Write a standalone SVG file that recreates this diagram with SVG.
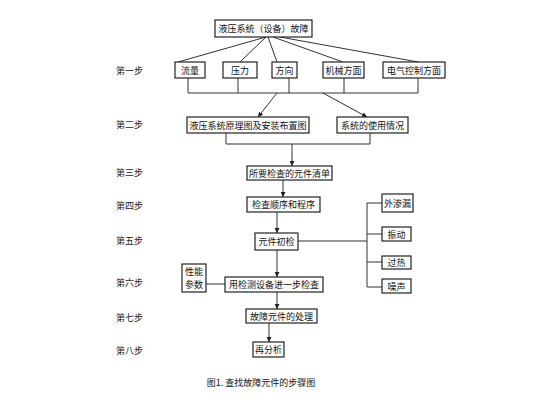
<svg xmlns="http://www.w3.org/2000/svg" width="553" height="406" viewBox="0 0 553 406">
<defs>
<style>
.box{fill:#fff;stroke:#222;stroke-width:1.2}
.t{font-family:"Noto Sans CJK SC","Liberation Sans",sans-serif;font-size:9px;fill:#111;text-anchor:middle;dominant-baseline:central}
.s{font-family:"Noto Sans CJK SC","Liberation Sans",sans-serif;font-size:9px;fill:#222;dominant-baseline:central}
.ln{fill:none;stroke:#333;stroke-width:1}
</style>
<marker id="ah" viewBox="0 0 8 8" refX="8" refY="4" markerWidth="5" markerHeight="5" orient="auto">
<path d="M0,0 L8,4 L0,8 z" fill="#222"/>
</marker>
</defs>
<rect width="553" height="406" fill="#fff"/>

<g id="steps">
<text class="s" x="116" y="70">第一步</text>
<text class="s" x="116" y="124">第二步</text>
<text class="s" x="116" y="172">第三步</text>
<text class="s" x="116" y="205">第四步</text>
<text class="s" x="116" y="240">第五步</text>
<text class="s" x="116" y="282">第六步</text>
<text class="s" x="116" y="317">第七步</text>
<text class="s" x="116" y="350">第八步</text>
</g>

<g id="connectors">
<path class="ln" d="M266,37 L178,62 M266,37 L240,62 M268,37 L277,62 M273,37 L343,62 M280,37 L418,62"/>
<path class="ln" d="M188,78 V93 M238,78 V93 M289,78 V93 M344,78 V93 M418,78 V93 M188,93 H418"/>
<path class="ln" d="M277,93 L258,117" marker-end="url(#ah)"/>
<path class="ln" d="M323,93 L367,117" marker-end="url(#ah)"/>
<path class="ln" d="M226,133 V144 H370 V133"/>
<path class="ln" d="M292,144 V166" marker-end="url(#ah)"/>
<path class="ln" d="M283,180 V197" marker-end="url(#ah)"/>
<path class="ln" d="M277,212 V233" marker-end="url(#ah)"/>
<path class="ln" d="M298,241 H367 M367,203 V287 M367,203 H382 M367,234 H382 M367,262 H382 M367,287 H382"/>
<path class="ln" d="M277,250 V277" marker-end="url(#ah)"/>
<path class="ln" d="M206,284 H225"/>
<path class="ln" d="M277,292 V309" marker-end="url(#ah)"/>
<path class="ln" d="M269,323 V342" marker-end="url(#ah)"/>
</g>

<g id="n-top"><rect class="box" x="215" y="20" width="97" height="17"/><text class="t" x="263.5" y="28.5">液压系统（设备）故障</text></g>
<g id="n-liuliang"><rect class="box" x="175" y="62" width="30" height="16"/><text class="t" x="190" y="70">流量</text></g>
<g id="n-yali"><rect class="box" x="223" y="62" width="34" height="16"/><text class="t" x="240" y="70">压力</text></g>
<g id="n-fangxiang"><rect class="box" x="272" y="62" width="25" height="16"/><text class="t" x="284.5" y="70">方向</text></g>
<g id="n-jixie"><rect class="box" x="323" y="62" width="41" height="16"/><text class="t" x="343.5" y="70">机械方面</text></g>
<g id="n-dianqi"><rect class="box" x="383" y="62" width="62" height="16"/><text class="t" x="414" y="70">电气控制方面</text></g>
<g id="n-yuanli"><rect class="box" x="187" y="117" width="122" height="16"/><text class="t" x="248" y="125">液压系统原理图及安装布置图</text></g>
<g id="n-shiyong"><rect class="box" x="337" y="117" width="71" height="16"/><text class="t" x="372.5" y="125">系统的使用情况</text></g>
<g id="n-qingdan"><rect class="box" x="247" y="166" width="85" height="14"/><text class="t" x="289.5" y="173">所要检查的元件清单</text></g>
<g id="n-shunxu"><rect class="box" x="247" y="197" width="73" height="15"/><text class="t" x="283.5" y="204.5">检查顺序和程序</text></g>
<g id="n-chujian"><rect class="box" x="255" y="233" width="43" height="17"/><text class="t" x="276.5" y="241.5">元件初检</text></g>
<g id="n-waishenlou"><rect class="box" x="382" y="194" width="31" height="18"/><text class="t" x="397.5" y="203">外渗漏</text></g>
<g id="n-zhendong"><rect class="box" x="382" y="227" width="29" height="14"/><text class="t" x="396.5" y="234">振动</text></g>
<g id="n-guore"><rect class="box" x="382" y="256" width="29" height="13"/><text class="t" x="396.5" y="262.5">过热</text></g>
<g id="n-zaosheng"><rect class="box" x="382" y="279" width="29" height="14"/><text class="t" x="396.5" y="286">噪声</text></g>
<g id="n-xingneng"><rect class="box" x="182" y="264" width="24" height="28"/><text class="t" x="194" y="271.5">性能</text><text class="t" x="194" y="284.5">参数</text></g>
<g id="n-jiance"><rect class="box" x="225" y="277" width="98" height="15"/><text class="t" x="274" y="284.5">用检测设备进一步检查</text></g>
<g id="n-chuli"><rect class="box" x="246" y="309" width="71" height="14"/><text class="t" x="281.5" y="316">故障元件的处理</text></g>
<g id="n-zaifenxi"><rect class="box" x="253" y="342" width="31" height="15"/><text class="t" x="268.5" y="349.5">再分析</text></g>

<text class="t" x="261" y="382">图1. 查找故障元件的步骤图</text>
</svg>
